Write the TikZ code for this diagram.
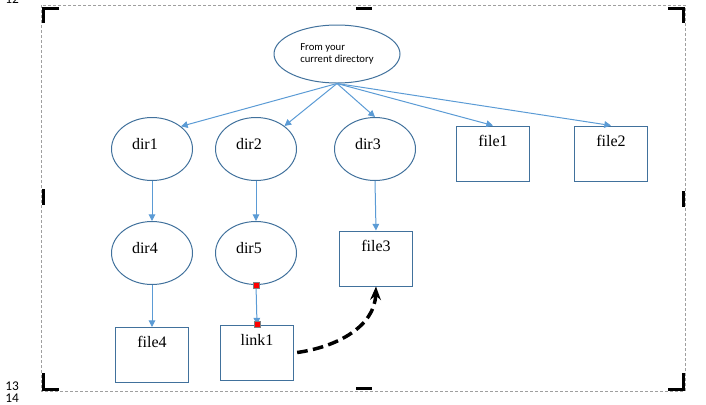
\documentclass[tikz,border=0pt]{standalone}
\usepackage{fontspec}
\setmainfont{Liberation Serif}
\newfontfamily\carlito{Carlito}
\usepackage{tikz}
\usetikzlibrary{arrows.meta,shapes.geometric}
\definecolor{shapeblue}{HTML}{41719C}
\definecolor{linkblue}{HTML}{5B9BD5}

\begin{document}
\begin{tikzpicture}[
  x=0.75pt, y=-0.75pt,
  dirnode/.style={ellipse, draw=shapeblue, line width=0.75pt, minimum width=60.75pt,
    minimum height=47.25pt, inner sep=0pt, text width=30pt, align=left,
    text height=9pt, text depth=9pt, font=\fontsize{12}{14}\selectfont},
  filenode/.style={rectangle, draw=shapeblue, line width=0.75pt, minimum width=55pt,
    inner sep=0pt, text height=15pt, text depth=26.25pt, align=center,
    font=\fontsize{12}{14}\selectfont},
  arrow/.style={draw=linkblue, line width=0.75pt, -{Triangle[length=5pt,width=5pt]}},
  linkarrow/.style={black, line width=2.6pt, dash pattern=on 8pt off 4pt,
    -{Stealth[length=10pt,width=8pt]}},
  redsq/.style={rectangle, draw=gray, fill=red, line width=0.4pt, minimum size=4.5pt, inner sep=0pt},
  cropline/.style={line width=2.25pt, black},
  linenum/.style={anchor=base west, inner sep=0pt, font=\carlito\fontsize{10}{12}\selectfont}
]
  \useasboundingbox (0,0) rectangle (706,404);

  % Page frame and crop marks
  \draw[gray!75, line width=0.75pt, dash pattern=on 2.25pt off 1.5pt] (41,5) rectangle (685,391);
  \draw[cropline] (43,23) -- (43,8) -- (59,8);
  \draw[cropline] (668,8) -- (683,8) -- (683,23);
  \draw[cropline] (43,373) -- (43,389) -- (59,389);
  \draw[cropline] (668,389) -- (683,389) -- (683,373);
  \draw[cropline] (356,8) -- (372,8);
  \draw[cropline] (356,388) -- (372,388);
  \draw[cropline] (43,189) -- (43,205);
  \draw[cropline] (683,191) -- (683,207);

  % Line numbers
  \node[linenum] (ln12) at (5,3) {12};
  \node[linenum] (ln13) at (5,390) {13};
  \node[linenum] (ln14) at (5,402) {14};

  % Nodes
  \node[ellipse, draw=shapeblue, line width=0.75pt, minimum width=94.5pt, minimum height=43.5pt,
    inner sep=0pt, align=left, font=\carlito\fontsize{8}{9.5}\selectfont] (top) at (337,54)
    {From your\\current directory};
  \node[dirnode] (dir1) at (152,149) {dir1};
  \node[dirnode] (dir2) at (256,149) {dir2};
  \node[dirnode] (dir3) at (375,149) {dir3};
  \node[filenode] (file1) at (493,153.5) {file1};
  \node[filenode] (file2) at (611,153.5) {file2};
  \node[dirnode] (dir4) at (152,253) {dir4};
  \node[dirnode] (dir5) at (256,253) {dir5};
  \node[filenode] (file3) at (376,258.5) {file3};
  \node[filenode] (file4) at (152,355) {file4};
  \node[filenode] (link1) at (257,352.5) {link1};

  % Arrows
  \draw[arrow] (top.south) -- (dir1.north east);
  \draw[arrow] (top.south) -- (dir2);
  \draw[arrow] (top.south) -- (dir3.north);
  \draw[arrow] (top.south) -- (file1.north);
  \draw[arrow] (top.south) -- (file2.north);
  \draw[arrow] (dir1) -- (dir4);
  \draw[arrow] (dir2) -- (dir5);
  \draw[arrow] (dir3.south) -- (file3.north);
  \draw[arrow] (dir4) -- (file4);
  \draw[arrow] (dir5.south) -- (link1.north);
  \node[redsq] (sq1) at (dir5.south) {};
  \node[redsq] (sq2) at (link1.north) {};
  \draw[linkarrow] ([xshift=2.25pt]link1.east) to[out=8, in=-92] (file3.south);
\end{tikzpicture}
\end{document}
